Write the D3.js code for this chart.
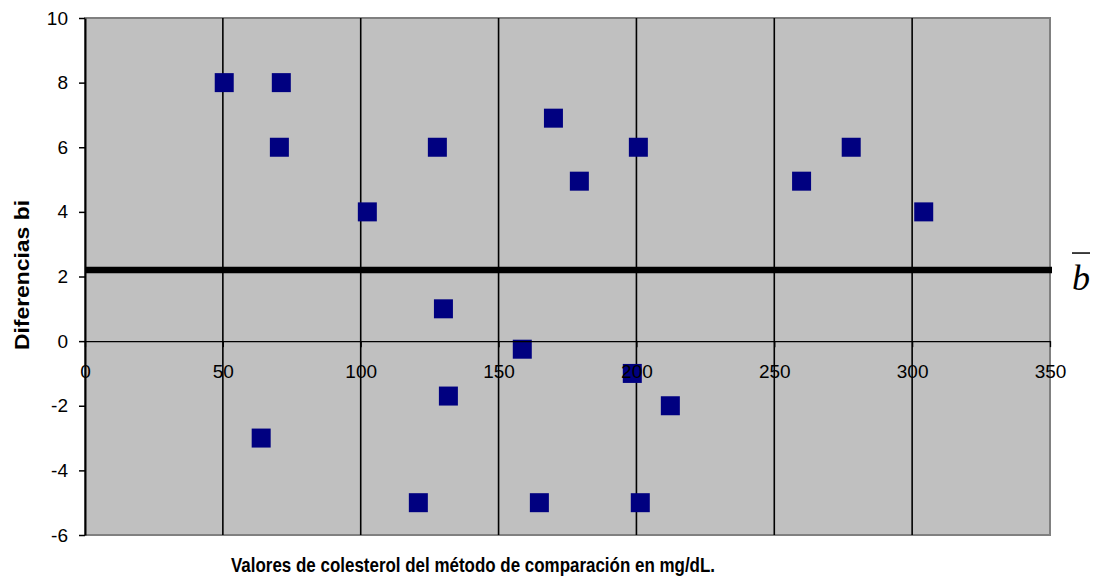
<!DOCTYPE html>
<html>
<head>
<meta charset="utf-8">
<script src="https://cdn.jsdelivr.net/npm/d3@7"></script>
<style>
  html, body { margin: 0; padding: 0; background: #ffffff; }
  svg { display: block; }
</style>
</head>
<body>
<svg id="chart" width="1095" height="587"></svg>
<script>
// ---- Data ----
const xValues = [50.5, 71.2, 70.5, 63.9, 102.4, 127.8, 130.0, 131.8, 120.9, 158.6,
                 169.9, 179.3, 200.7, 198.5, 212.3, 201.4, 164.8, 259.9, 277.9, 304.2];
const yValues = [8, 8, 6, -3, 4, 6, 1, -1.7, -5, -0.25,
                 6.9, 4.95, 6, -1, -2, -5, -5, 4.95, 6, 4];
const meanB = 2.2;
const xTicks = [0, 50, 100, 150, 200, 250, 300, 350];
const yTicks = [-6, -4, -2, 0, 2, 4, 6, 8, 10];
const xTitle = "Valores de colesterol del método de comparación en mg/dL.";
const yTitle = "Diferencias  bi";

// ---- Layout ----
const svg = d3.select("#chart");
const pLeft = 85, pTop = 18, pRight = 1050, pBottom = 535;
const x = d3.scaleLinear().domain([0, 350]).range([pLeft, pRight]);
const y = d3.scaleLinear().domain([-6, 10]).range([pBottom, pTop]);
const font = "'Liberation Sans', Arial, sans-serif";
const fmt = d => String(d);

// plot background
svg.append("rect")
  .attr("x", pLeft).attr("y", pTop)
  .attr("width", pRight - pLeft).attr("height", pBottom - pTop)
  .attr("fill", "#c0c0c0")
  .attr("stroke", "#808080").attr("stroke-width", 2);

// vertical gridlines
svg.append("g").selectAll("line")
  .data(xTicks.filter(d => d > 0 && d < 350))
  .join("line")
  .attr("x1", d => x(d)).attr("x2", d => x(d))
  .attr("y1", pTop).attr("y2", pBottom)
  .attr("stroke", "#000").attr("stroke-width", 1.6);

// left axis
const yAxis = d3.axisLeft(y).tickValues(yTicks).tickFormat(fmt)
  .tickSize(6).tickPadding(11).tickSizeOuter(0);
const gy = svg.append("g").attr("transform", `translate(${pLeft},0)`).call(yAxis);
gy.select(".domain").attr("stroke", "#000").attr("stroke-width", 2);
gy.selectAll(".tick line").attr("stroke", "#000").attr("stroke-width", 1.5);
gy.selectAll(".tick text").attr("font-family", font).attr("font-size", 19).attr("fill", "#000");

// mean line
svg.append("line")
  .attr("x1", pLeft).attr("x2", pRight + 2)
  .attr("y1", y(meanB)).attr("y2", y(meanB))
  .attr("stroke", "#000").attr("stroke-width", 6.5);

// markers
const sz = 19;
svg.append("g").selectAll("rect")
  .data(xValues.map((v, i) => [v, yValues[i]]))
  .join("rect")
  .attr("x", d => x(d[0]) - sz / 2)
  .attr("y", d => y(d[1]) - sz / 2)
  .attr("width", sz).attr("height", sz)
  .attr("fill", "#000080");

// x axis at y = 0
const xAxis = d3.axisBottom(x).tickValues(xTicks).tickFormat(fmt)
  .tickSize(6).tickPadding(17).tickSizeOuter(0);
const gx = svg.append("g").attr("transform", `translate(0,${y(0)})`).call(xAxis);
gx.select(".domain").attr("stroke", "#000").attr("stroke-width", 1.3);
gx.selectAll(".tick line").attr("stroke", "#000").attr("stroke-width", 1.3);
gx.selectAll(".tick text").attr("font-family", font).attr("font-size", 19).attr("fill", "#000");

// b-bar symbol
const bx = 1081, by = y(meanB) + 20;
svg.append("text")
  .attr("x", bx).attr("y", by)
  .attr("text-anchor", "middle")
  .attr("font-family", "'Liberation Serif', 'Times New Roman', serif")
  .attr("font-style", "italic")
  .attr("font-size", 36)
  .attr("fill", "#000")
  .text("b");
svg.append("line")
  .attr("x1", bx - 9).attr("x2", bx + 9)
  .attr("y1", y(meanB) - 17).attr("y2", y(meanB) - 17)
  .attr("stroke", "#000").attr("stroke-width", 1.5);

// axis titles
svg.append("text")
  .attr("x", 473).attr("y", 572)
  .attr("text-anchor", "middle")
  .attr("font-family", font).attr("font-weight", "bold").attr("font-size", 21)
  .attr("textLength", 484).attr("lengthAdjust", "spacingAndGlyphs")
  .attr("fill", "#000")
  .text(xTitle);

svg.append("text")
  .attr("transform", "translate(29,275) rotate(-90)")
  .attr("text-anchor", "middle")
  .attr("font-family", font).attr("font-weight", "bold").attr("font-size", 21)
  .attr("textLength", 150).attr("lengthAdjust", "spacingAndGlyphs")
  .attr("fill", "#000")
  .text(yTitle);
</script>
</body>
</html>
